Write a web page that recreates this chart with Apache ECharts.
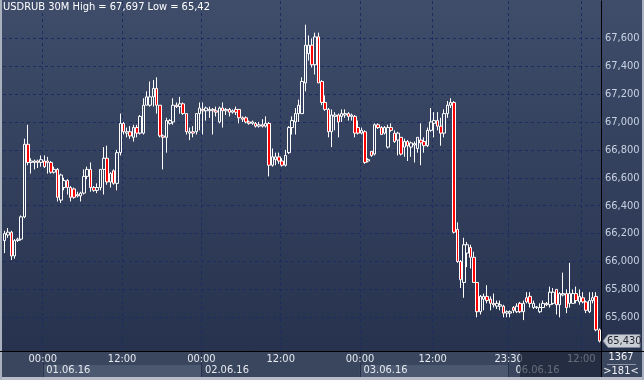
<!DOCTYPE html>
<html>
<head>
<meta charset="utf-8">
<script src="https://cdn.jsdelivr.net/npm/echarts@6/dist/echarts.min.js"></script>
<style>
html,body{margin:0;padding:0;background:#27324e;}
#c{width:644px;height:380px;
background:
 linear-gradient(to right,#aab1be 0px,#aab1be 2px,rgba(0,0,0,0) 2px,rgba(0,0,0,0) 642px,#aab1be 642px),
 linear-gradient(to bottom,#3f4d6a 0px,#27324e 351px,#3a465e 351px,#3a465e 377px,#b8bdc8 377px);}
</style>
</head>
<body>
<div id="c"></div>
<script>
// ---------------- DATA ----------------
const titleText = 'USDRUB 30M High = 67,697 Low = 65,42';
const barCountText = '1367';
const visibleText = '>181<';

// trading sessions (date, first bar time, last bar time), 30-minute bars
const sessions = [
  ['31.05.16', '18:00', '23:30'],
  ['01.06.16', '00:00', '23:30'],
  ['02.06.16', '00:00', '23:30'],
  ['03.06.16', '00:00', '00:00'],
  ['03.06.16', '01:30', '23:30'],
  ['06.06.16', '01:30', '14:30']
];

const opens = [
  66.15,66.19,66.21,66.04,66.15,66.16,66.32,66.84,66.71,66.71,66.72,66.71,
  66.72,66.72,66.71,66.64,66.66,66.44,66.53,66.58,66.53,66.52,66.48,66.47,66.49,66.61,66.66,66.53,66.51,66.53,66.66,66.74,66.57,66.65,66.56,66.78,
  66.99,66.92,66.93,66.89,66.96,66.92,66.92,67.12,67.12,67.18,67.24,67.12,66.90,66.89,66.99,67.00,67.12,67.11,67.13,67.06,66.92,66.93,66.93,67.06,
  67.09,67.08,67.08,67.09,67.08,67.00,67.10,67.08,67.09,67.07,67.09,67.09,67.03,67.03,67.00,66.99,66.99,66.97,66.98,66.97,66.99,66.69,66.73,66.75,
  66.72,66.69,66.78,66.96,67.00,67.06,67.06,67.28,67.49,67.55,67.41,67.61,67.29,67.14,67.09,66.93,67.04,67.05,67.04,67.05,67.06,67.04,67.04,66.96,
  66.92,66.93,66.72,66.79,66.77,66.98,66.96,66.92,66.82,66.96,66.92,66.87,66.89,66.82,66.86,66.82,66.835,66.81,66.87,66.86,66.83,66.94,
  66.99,67.01,66.97,66.92,67.06,67.12,67.14,66.23,66.00,65.85,66.06,66.10,66.03,65.85,65.64,65.73,65.75,65.73,65.70,65.68,65.68,65.68,65.63,65.63,
  65.67,65.64,65.70,65.64,65.74,65.75,65.67,65.67,65.64,65.67,65.70,65.69,65.70,65.80,65.69,65.76,65.77,65.70,65.70,65.77,65.71,65.74,65.71,65.64,65.72,65.75,65.51
];
const closes = [
  66.20,66.21,66.04,66.15,66.16,66.32,66.84,66.71,66.72,66.72,66.71,66.73,
  66.68,66.71,66.64,66.66,66.46,66.62,66.58,66.53,66.46,66.46,66.47,66.49,66.61,66.66,66.53,66.51,66.53,66.66,66.74,66.57,66.63,66.56,66.78,66.99,
  66.93,66.93,66.90,66.96,66.92,67.04,67.12,67.18,67.18,67.24,67.12,66.90,66.89,67.01,67.01,67.12,67.11,67.13,67.06,66.93,66.93,66.92,67.06,67.10,
  67.08,67.10,67.09,67.08,67.07,67.10,67.08,67.09,67.07,67.08,67.07,67.03,67.02,67.00,66.99,67.00,66.97,66.98,66.97,66.99,66.69,66.75,66.75,66.72,
  66.69,66.76,66.96,67.01,67.06,67.12,67.29,67.55,67.55,67.41,67.61,67.28,67.14,67.09,66.93,67.05,67.05,67.00,67.06,67.06,67.04,67.05,66.92,66.92,
  66.94,66.71,66.73,66.76,66.98,66.96,66.91,66.96,66.96,66.94,66.86,66.92,66.77,66.86,66.83,66.85,66.845,66.89,66.85,66.83,66.94,67.00,
  67.01,66.97,66.92,67.06,67.12,67.14,66.21,66.00,65.87,66.12,66.12,66.03,65.85,65.64,65.75,65.75,65.72,65.70,65.69,65.70,65.69,65.63,65.64,65.64,
  65.65,65.68,65.64,65.70,65.71,65.70,65.70,65.675,65.67,65.70,65.69,65.78,65.78,65.69,65.77,65.77,65.67,65.77,65.77,65.72,65.75,65.71,65.65,65.72,65.74,65.51,65.43
];
const lows = [
  66.06,66.17,66.01,66.02,66.14,66.15,66.31,66.69,66.63,66.66,66.67,66.68,
  66.67,66.63,66.63,66.63,66.43,66.42,66.51,66.48,66.43,66.45,66.46,66.43,66.48,66.59,66.50,66.50,66.49,66.51,66.48,66.55,66.53,66.55,66.51,66.76,
  66.91,66.89,66.88,66.86,66.89,66.91,66.91,67.12,67.11,67.11,67.06,66.89,66.66,66.78,66.98,66.98,67.10,67.06,67.05,66.91,66.87,66.89,66.91,66.94,
  66.91,67.01,67.03,66.91,67.04,66.99,66.96,67.05,67.04,67.06,67.05,66.99,67.00,66.99,66.98,66.98,66.96,66.96,66.96,66.96,66.61,66.68,66.69,66.70,
  66.68,66.68,66.77,66.91,66.91,67.00,67.06,67.22,67.44,67.39,67.34,67.28,67.12,67.08,66.89,66.82,66.94,66.89,67.00,67.03,67.01,67.01,66.89,66.91,
  66.91,66.70,66.71,66.75,66.76,66.95,66.91,66.91,66.81,66.93,66.85,66.76,66.76,66.75,66.72,66.75,66.71,66.78,66.69,66.78,66.82,66.93,
  66.89,66.94,66.83,66.89,67.03,67.10,66.20,65.99,65.81,65.74,65.96,65.95,65.85,65.60,65.62,65.65,65.70,65.65,65.67,65.66,65.65,65.60,65.60,65.60,
  65.63,65.63,65.63,65.58,65.70,65.67,65.66,65.66,65.63,65.67,65.68,65.67,65.69,65.62,65.60,65.75,65.63,65.67,65.70,65.70,65.69,65.70,65.63,65.63,65.70,65.50,65.42
];
const highs = [
  66.22,66.24,66.22,66.16,66.17,66.33,66.88,66.98,66.74,66.73,66.73,66.76,
  66.76,66.75,66.72,66.68,66.67,66.63,66.60,66.59,66.54,66.53,66.50,66.50,66.66,66.68,66.71,66.54,66.56,66.66,66.82,66.83,66.64,66.66,66.80,67.06,
  67.00,66.96,66.97,66.98,66.98,67.05,67.17,67.22,67.29,67.30,67.32,67.12,66.91,67.03,67.02,67.17,67.14,67.18,67.14,67.06,66.96,66.97,67.06,67.14,
  67.14,67.11,67.11,67.10,67.11,67.11,67.14,67.10,67.10,67.09,67.11,67.09,67.04,67.04,67.01,67.01,67.00,67.00,67.02,67.04,67.00,66.81,66.78,66.78,
  66.74,66.80,66.97,67.04,67.10,67.16,67.32,67.697,67.62,67.60,67.64,67.64,67.30,67.19,67.10,67.09,67.07,67.06,67.09,67.09,67.07,67.06,67.05,67.01,
  66.96,66.94,66.74,66.79,66.99,66.99,66.97,66.97,66.98,66.99,66.94,66.93,66.89,66.88,66.87,66.86,66.86,66.89,66.99,66.89,66.96,67.10,
  67.07,67.07,67.03,67.09,67.15,67.17,67.15,66.28,66.01,66.17,66.14,66.12,66.07,65.85,65.76,65.77,65.83,65.75,65.77,65.72,65.72,65.69,65.65,65.65,
  65.68,65.70,65.71,65.72,65.78,65.78,65.72,65.68,65.70,65.72,65.71,65.82,65.81,65.80,65.78,65.92,65.80,65.99,65.80,65.82,65.80,65.78,65.72,65.78,65.78,65.78,65.52
];

// axis ticks
const yTickValues = [65.6, 65.8, 66.0, 66.2, 66.4, 66.6, 66.8, 67.0, 67.2, 67.4, 67.6];
const timeTicks = ['01.06.16 00:00','01.06.16 12:00','02.06.16 00:00','02.06.16 12:00',
                   '03.06.16 00:00','03.06.16 12:00','03.06.16 23:30','06.06.16 12:00'];
const timeTickLabels = ['00:00','12:00','00:00','12:00','00:00','12:00','23:30','12:00'];
const dateTicks = ['01.06.16 00:00','02.06.16 00:00','03.06.16 00:00','06.06.16 01:30'];
const dateTickLabels = ['01.06.16','02.06.16','03.06.16','06.06.16'];
const dateBoxes = [['01.06.16 00:00','02.06.16 00:00'], ['03.06.16 00:00','03.06.16 23:30']];
const yMin = 65.3585, yMax = 67.867;

// ---------------- BUILD ----------------
function pad(n){ return (n < 10 ? '0' : '') + n; }
function buildCategories(){
  const out = [];
  sessions.forEach(([date, from, to]) => {
    const [h, m] = from.split(':').map(Number);
    const [eh, em] = to.split(':').map(Number);
    for (let t = h * 60 + m; t <= eh * 60 + em; t += 30) {
      out.push(date + ' ' + pad(Math.floor(t / 60)) + ':' + pad(t % 60));
    }
  });
  return out;
}
const categories = buildCategories();
if (categories.length !== opens.length || opens.length !== closes.length ||
    lows.length !== opens.length || highs.length !== opens.length) {
  throw new Error('length mismatch ' + [categories.length, opens.length, closes.length, lows.length, highs.length].join(','));
}
const candles = opens.map((o, i) => [o, closes[i], lows[i], highs[i]]);
const timeIdx = timeTicks.map(t => categories.indexOf(t));
const dateIdx = dateTicks.map(t => categories.indexOf(t));

const FONT = "'Liberation Sans Narrow','DejaVu Sans Condensed','Liberation Sans',Arial,sans-serif";
const GRID = '#1a2c60';
const fmt = v => v.toFixed(3).replace('.', ',');
const isTick = v => yTickValues.some(t => Math.abs(t - v) < 1e-6);

const chart = echarts.init(document.getElementById('c'), null, {renderer: 'canvas'});
const option = {
  animation: false,
  backgroundColor: 'transparent',
  textStyle: {fontFamily: FONT},
  title: {
    text: titleText, left: 3, top: 2, padding: 0,
    textStyle: {color: '#ffffff', fontSize: 11, fontWeight: 'normal', fontFamily: FONT}
  },
  grid: {left: 3, right: 43, top: 1, bottom: 29, containLabel: false},
  xAxis: [
    {
      type: 'category', data: categories, boundaryGap: true, position: 'bottom',
      axisLine: {show: true, lineStyle: {color: '#000000', width: 1}},
      axisTick: {show: false},
      axisLabel: {
        interval: (i) => timeIdx.includes(i),
        formatter: (v, i) => { const k = timeIdx.indexOf(i); return k >= 0 ? timeTickLabels[k] : ''; },
        color: '#e6eaf0', fontSize: 11, fontFamily: FONT, margin: 3, padding: [0, 3, 0, 0]
      },
      splitLine: {show: true, interval: (i) => timeIdx.includes(i),
        lineStyle: {color: GRID, type: [3, 3], width: 1}}
    },
    {
      type: 'category', data: categories, boundaryGap: true, position: 'bottom',
      axisLine: {show: false}, axisTick: {show: false}, splitLine: {show: false},
      axisLabel: {
        interval: (i) => dateIdx.includes(i),
        formatter: (v, i) => { const k = dateIdx.indexOf(i); return k >= 0 ? dateTickLabels[k] : ''; },
        align: 'left', color: '#e6eaf0', fontSize: 11, fontFamily: FONT, margin: 14, padding: [0, 0, 0, 2]
      }
    }
  ],
  yAxis: [{
    type: 'value', position: 'right', min: yMin, max: yMax,
    splitNumber: 12, minInterval: 0.2, maxInterval: 0.2,
    axisLine: {show: true, lineStyle: {color: '#000000', width: 1}},
    axisTick: {show: false}, splitLine: {show: false},
    axisLabel: {
      showMinLabel: false, showMaxLabel: false,
      formatter: v => isTick(v) ? fmt(v) : '',
      color: '#c8d1e0', fontSize: 11, fontFamily: FONT, margin: 4
    }
  }],
  series: [
    {
      type: 'line', data: [], silent: true, z: 1,
      markLine: {
        silent: true, z: 1, symbol: ['none', 'none'], label: {show: false},
        emphasis: {disabled: true},
        lineStyle: {color: GRID, type: [3, 3], width: 1},
        data: yTickValues.map(v => ({yAxis: v}))
      }
    },
    {
      type: 'candlestick', name: 'USDRUB', data: candles, z: 3, silent: true,
      barWidth: 3,
      emphasis: {disabled: true},
      itemStyle: {
        color: 'rgba(0,0,0,0)', color0: '#ff0000',
        borderColor: '#ffffff', borderColor0: '#ffffff', borderWidth: 1
      }
    }
  ]
};
chart.setOption(option);

// ---------------- DECORATION (positions from the axes) ----------------
const cx = i => chart.convertToPixel({xAxisIndex: 0}, i);
const bw = cx(1) - cx(0);
const bound = i => cx(i) - bw / 2;
const gy = Math.round(chart.convertToPixel({yAxisIndex: 0}, yMin));
const rightX = Math.round(bound(categories.length - 1) + bw);
const bandBottom = 377;
const lastClose = closes[closes.length - 1];
const tagY = chart.convertToPixel({yAxisIndex: 0}, lastClose);

const g = [];
dateBoxes.forEach(([a, b]) => {
  const x0 = bound(categories.indexOf(a)), x1 = bound(categories.indexOf(b));
  g.push({type: 'rect', z: -5, silent: true,
    shape: {x: x0, y: gy + 14, width: x1 - x0, height: bandBottom - gy - 14},
    style: {fill: '#4b5870'}});
});
dateIdx.slice(0, 3).concat([timeIdx[6]]).forEach(i => {
  const x = Math.round(bound(i)) + 0.5;
  g.push({type: 'line', z: -4, silent: true,
    shape: {x1: x, y1: gy + 1, x2: x, y2: bandBottom},
    style: {stroke: '#28324a', lineWidth: 1}});
});
// axis line extensions
g.push({type: 'line', z: 5, silent: true,
  shape: {x1: 0, y1: gy + 0.5, x2: 644, y2: gy + 0.5}, style: {stroke: '#000000', lineWidth: 1}});
g.push({type: 'line', z: 5, silent: true,
  shape: {x1: rightX + 0.5, y1: gy, x2: rightX + 0.5, y2: bandBottom}, style: {stroke: '#000000', lineWidth: 1}});
// dimmed area at the right of the time axis
g.push({type: 'rect', z: 100, silent: true,
  shape: {x: 520, y: gy + 1, width: rightX - 520, height: bandBottom - gy - 1},
  style: {fill: 'rgba(22,30,48,0.62)'}});
// current price tag
g.push({type: 'polygon', z: 50, silent: true,
  shape: {points: [[rightX + 2, tagY], [rightX + 7, tagY - 6.5], [640, tagY - 6.5], [640, tagY + 6.5], [rightX + 7, tagY + 6.5]]},
  style: {fill: '#c9cdd4', stroke: '#7d8598', lineWidth: 1}});
g.push({type: 'text', z: 51, silent: true,
  style: {text: fmt(lastClose), x: rightX + 6, y: tagY, textVerticalAlign: 'middle', verticalAlign: 'middle',
    fill: '#1f2430', font: '11px ' + FONT}});
// bottom-right counters
g.push({type: 'text', z: 51, silent: true,
  style: {text: barCountText, x: 621, y: 357.5, align: 'center', verticalAlign: 'middle',
    textAlign: 'center', textVerticalAlign: 'middle', fill: '#f0f2f5', font: '11px ' + FONT}});
g.push({type: 'line', z: 51, silent: true,
  shape: {x1: 607, y1: 364.5, x2: 636, y2: 364.5}, style: {stroke: '#8e97a8', lineWidth: 1}});
g.push({type: 'text', z: 51, silent: true,
  style: {text: visibleText, x: 621, y: 371, align: 'center', verticalAlign: 'middle',
    textAlign: 'center', textVerticalAlign: 'middle', fill: '#f0f2f5', font: '11px ' + FONT}});

chart.setOption({graphic: g});
</script>
</body>
</html>
